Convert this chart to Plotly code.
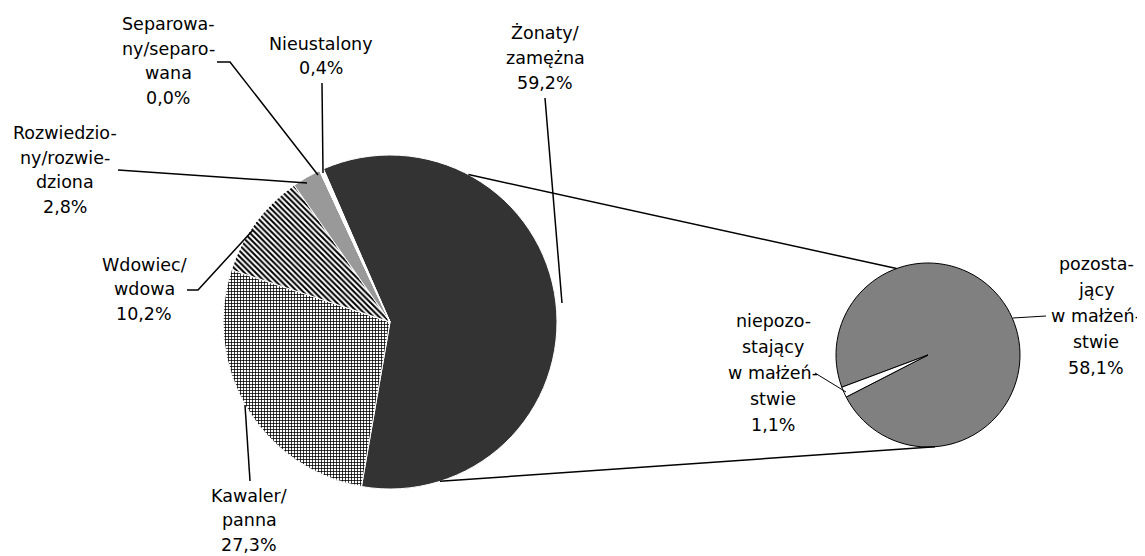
import math
import plotly.graph_objects as go

# the page body has an 8px margin, so the figure covers the visible area from (8, 8)
OFF = 8
W, H = 1145 - OFF, 556 - OFF

# ---- data ----
main_labels = ["Żonaty/<br>zamężna", "Kawaler/<br>panna", "Wdowiec/<br>wdowa",
               "Rozwiedzio-<br>ny/rozwie-<br>dziona", "Separowa-<br>ny/separo-<br>wana",
               "Nieustalony"]
main_values = [59.2, 27.3, 10.2, 2.8, 0.0, 0.4]
main_colors = ["#333333", "#ffffff", "#ffffff", "#999999", "#ffffff", "#ffffff"]
main_patterns = ["", "+", "\\", "", "", ""]

sub_labels = ["pozosta-<br>jący<br>w małżeń-<br>stwie", "niepozo-<br>stający<br>w małżeń-<br>stwie"]
sub_values = [58.1, 1.1]
sub_colors = ["#808080", "#ffffff"]

# ---- geometry (screen pixels) ----
main_c, main_r = (390, 322), 167
sub_c, sub_r = (928, 355), 92


def px(x, y):
    return (x - OFF) / W, 1 - (y - OFF) / H


def domain(c, r):
    x0, y1 = px(c[0] - r, c[1] - r)
    x1, y0 = px(c[0] + r, c[1] + r)
    return dict(x=[x0, x1], y=[y0, y1])


def fmt(v):
    return f"{v:.1f}%".replace(".", ",")


fig = go.Figure()
fig.add_trace(go.Pie(
    labels=[l.replace("<br>", "") for l in main_labels], values=main_values,
    sort=False, direction="clockwise", rotation=-23.5,
    domain=domain(main_c, main_r), textinfo="none", hoverinfo="label+percent",
    marker=dict(colors=main_colors, line=dict(color="#ffffff", width=1),
                pattern=dict(shape=main_patterns, fgcolor="#000000",
                             bgcolor="#ffffff", size=[4, 3, 4, 4, 4, 4],
                             solidity=[0.3, 0.45, 0.5, 0.3, 0.3, 0.3])),
    showlegend=False,
))
fig.add_trace(go.Pie(
    labels=[l.replace("<br>", "") for l in sub_labels], values=sub_values,
    sort=False, direction="clockwise", rotation=-110.5,
    domain=domain(sub_c, sub_r), textinfo="none", hoverinfo="label+percent",
    marker=dict(colors=sub_colors, line=dict(color="#000000", width=1)),
    showlegend=False,
))

font = dict(family="DejaVu Sans", size=17.5, color="#000000")
main_pos = [(545, 58), (249, 520), (144, 289), (65, 170), (168, 61), (321, 56)]
sub_pos = [(1096, 316), (773, 373)]
ann = []


def add_label(text, pos, spacing):
    lines = text.split("<br>")
    n = len(lines)
    for i, line in enumerate(lines):
        x, y = px(pos[0], pos[1] + (i - (n - 1) / 2) * spacing)
        ann.append(dict(x=x, y=y, xref="paper", yref="paper", text=line,
                        showarrow=False, font=font, align="center",
                        xanchor="center", yanchor="middle"))


for lab, v, p in zip(main_labels, main_values, main_pos):
    add_label(f"{lab}<br>{fmt(v)}", p, 24.5)
for lab, v, p in zip(sub_labels, sub_values, sub_pos):
    add_label(f"{lab}<br>{fmt(v)}", p, 26)

shapes = []


def polyline(points, width):
    d = "M " + " L ".join(f"{px(x, y)[0]},{px(x, y)[1]}" for x, y in points)
    shapes.append(dict(type="path", path=d, xref="paper", yref="paper",
                       line=dict(color="#000000", width=width)))


def on_circle(c, r, ang):
    a = math.radians(ang)
    return (c[0] + r * math.sin(a), c[1] - r * math.cos(a))


# connectors between the pies
polyline([on_circle(main_c, main_r, 28), on_circle(sub_c, sub_r, 340)], 1.5)
polyline([on_circle(main_c, main_r, 162.6), on_circle(sub_c, sub_r, 175.6)], 1.5)

# leader lines
polyline([(545, 98), (562, 303)], 1.5)
polyline([(245, 405), (250, 481)], 1.5)
polyline([(187, 290), (198, 290), (253, 230)], 1.5)
polyline([(118, 170), (307, 183)], 1.5)
polyline([(217, 62), (230, 62), (318, 175)], 1.5)
polyline([(322, 83), (323, 173)], 1.5)
polyline([(815, 373), (846, 392)], 1)
polyline([(1013, 318), (1046, 316)], 1)

fig.update_layout(width=W, height=H, margin=dict(l=0, r=0, t=0, b=0),
                  paper_bgcolor="#ffffff", plot_bgcolor="#ffffff",
                  annotations=ann, shapes=shapes)
fig.write_html("out.html")
